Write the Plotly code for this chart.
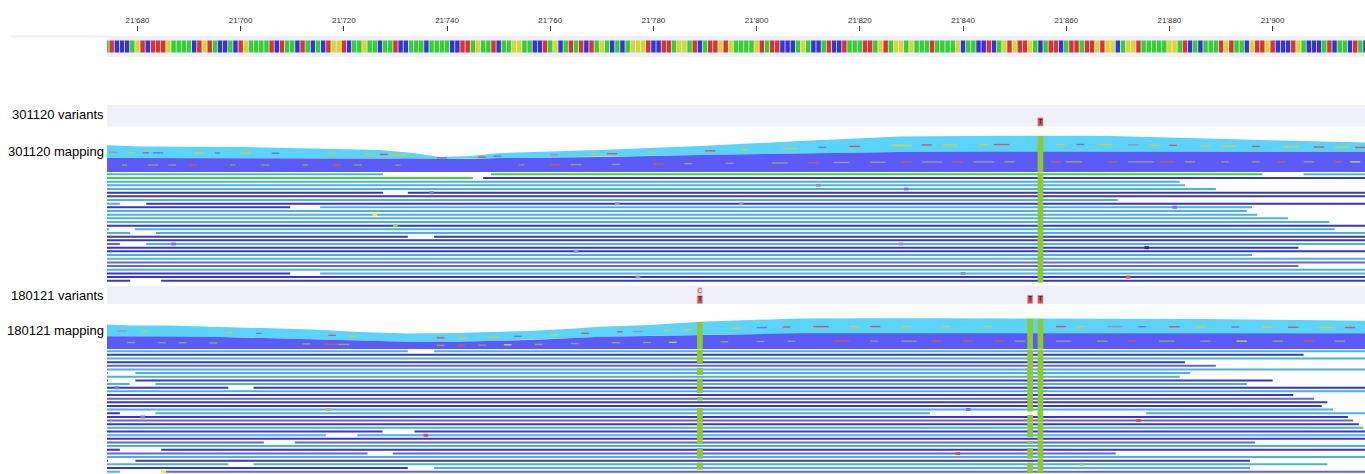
import plotly.graph_objects as go
import numpy as np

# ---------------- data ----------------
SEQ_START = 21674
SEQUENCE = ("ATCCCAGTCTTTGAAAACTGTACCACTGAAAATCTAACTACACTGGTCAAGAACAATCCAAA"
            "CAAAACCTTAGAATCAAGGAACCTAGCATATCTAGACACAGGGTCCTTAGGATCATTGTGA"
            "AAAGTATTCCCAGACCATCCTAAATTAGTAGGAGAAATAAAAGCAACCTCAGTGTTGACAT"
            "TCATTATTGTGGCAGGTAAAAAGGATCACAAATGTAACGTTGTCCCTGACCCATCAACTAC")
BASE_COLORS = {"A": "#35CF35", "C": "#3535D2", "G": "#D6D63A", "T": "#D63535"}

TICK_VALUES = list(range(21680, 21901, 20))
X_RANGE = [21674.1, 21917.9]

TRACK_LABELS = ["301120 variants", "301120 mapping", "180121 variants", "180121 mapping"]
LABEL_Y = [114, 151, 295, 330]

# variants: position -> alleles stacked top to bottom
S1_VARIANTS = [(21855, ["T"])]
S2_VARIANTS = [(21789, ["C", "T"]), (21853, ["T"]), (21855, ["T"])]

# coverage profiles (depth in pixel units above the stack bottom)
S1_COV_POS = [21668, 21680.5, 21699.9, 21711.5, 21727, 21733.4, 21738.6, 21744.4, 21750.3, 21769.6,
              21789, 21808.4, 21827.8, 21847.2, 21866.5, 21876.2, 21895.6, 21905.3, 21922]
S1_COV_TOTAL = [28, 25.5, 25, 24, 22, 19, 15, 16, 19, 22, 26, 31, 35.5, 36.3, 36.3, 35, 32, 31, 29]
S1_COV_DARK = [14, 14, 14, 14, 14, 13.5, 13, 13, 14, 15, 17, 18.5, 20, 20.3, 20.3, 20.3, 20.3, 20.3, 20.3]

S2_COV_POS = [21668, 21678.6, 21686.3, 21696, 21704.7, 21714, 21723.1, 21732.4, 21741.7, 21748.3, 21756,
              21764.8, 21769.6, 21779.3, 21789, 21798.7, 21808.4, 21827.8, 21847.2, 21866.5, 21885.9,
              21905.3, 21922]
S2_COV_TOTAL = [26, 23.5, 23.5, 22, 21, 19.5, 17, 15.5, 16, 17, 18, 20.5, 22.3, 24, 27.3, 29, 30.5,
                30.7, 30.7, 30.5, 30, 29, 28]
S2_COV_DARK = [13, 13, 12.5, 12, 11, 10, 8.5, 7.3, 7.3, 8, 9, 11, 12.3, 13, 14, 15, 15.7, 15.7, 15.7,
               15.7, 15.7, 15.7, 15.7]

# mismatch dashes inside the coverage stacks: (start, length, colour code)
S1_LIGHT_DASH = [(21674.5, 1.5, "o"), (21678, 1.5, "y"), (21681, 1.2, "r"), (21683, 2, "b"), (21691, 2, "y"),
                 (21695, 1, "b"), (21700, 2, "y"), (21706, 1.5, "b"), (21717, 1.5, "y"), (21724, 2, "y"),
                 (21727, 1.5, "r"), (21729, 3, "y"), (21738, 2, "b"), (21746, 1.5, "r"), (21749, 1.5, "b"),
                 (21760, 1.5, "g"), (21768, 1.5, "y"), (21771, 2, "r"), (21779, 1.5, "y"), (21790, 2, "r"),
                 (21797, 1.5, "y"), (21805, 3, "y"), (21812, 1.5, "b"), (21818, 2, "r"), (21826, 4, "y"),
                 (21832, 2, "r"), (21836, 3, "y"), (21843, 2, "y"), (21846, 3, "r"), (21858, 2, "y"),
                 (21862, 1.5, "b"), (21866, 3, "y"), (21872, 2, "g"), (21876, 2, "y"), (21880, 1.5, "r"),
                 (21886, 2, "y"), (21890, 3, "y"), (21896, 1.5, "r"), (21902, 3, "y"), (21908, 2, "r"),
                 (21912, 3, "y"), (21916, 2, "r")]
S1_DARK_DASH = [(21677, 1, "o"), (21682, 2, "o"), (21686, 1.5, "g"), (21690, 1.5, "r"), (21698, 1, "o"),
                (21704, 1.5, "o"), (21712, 1, "o"), (21718, 1.5, "r"), (21722, 1.5, "o"), (21730, 1, "g"),
                (21754, 1, "o"), (21760, 2, "r"), (21764, 2, "o"), (21772, 1.5, "g"), (21780, 2, "r"),
                (21786, 1.5, "o"), (21794, 1.5, "g"), (21803, 3, "o"), (21810, 2, "r"), (21815, 3, "g"),
                (21822, 3, "o"), (21828, 2, "r"), (21832, 4, "g"), (21838, 2, "r"), (21842, 4, "g"),
                (21848, 2, "o"), (21857, 2, "r"), (21860, 3, "o"), (21868, 2, "r"), (21872, 5, "g"),
                (21878, 3, "r"), (21883, 2, "o"), (21890, 1.5, "g"), (21896, 1.5, "o"), (21901, 1.5, "r"),
                (21906, 2, "o"), (21912, 1.5, "r"), (21915, 2, "y")]
S2_LIGHT_DASH = [(21676, 2, "g"), (21681, 1, "y"), (21697, 1.5, "y"), (21703, 1, "b"), (21717, 1.5, "r"),
                 (21721, 1.5, "y"), (21738, 1.5, "r"), (21742, 2, "y"), (21748, 2, "y"), (21753, 1.5, "b"),
                 (21760, 1.5, "y"), (21766, 1.5, "r"), (21773, 1, "r"), (21776, 2, "g"), (21782, 1.5, "y"),
                 (21786, 1.5, "y"), (21795, 2, "y"), (21800, 2, "b"), (21805, 1.5, "r"), (21811, 3, "r"),
                 (21818, 2, "y"), (21822, 2, "r"), (21828, 2, "y"), (21836, 1.5, "y"), (21844, 1.5, "y"),
                 (21858, 2, "r"), (21862, 2, "y"), (21868, 3, "g"), (21874, 1.5, "b"), (21880, 2, "r"),
                 (21885, 2, "y"), (21892, 1.5, "b"), (21898, 2, "y"), (21903, 2, "r"), (21909, 3, "y"),
                 (21914, 2, "r")]
S2_DARK_DASH = [(21678, 1.5, "o"), (21684, 1.5, "g"), (21688, 1.5, "o"), (21694, 1.5, "o"), (21712, 1.5, "o"),
                (21716, 3, "r"), (21719, 2, "o"), (21738, 1.5, "o"), (21742, 1.5, "r"), (21746, 1.5, "g"),
                (21751, 1.5, "y"), (21757, 1.5, "o"), (21764, 1.5, "g"), (21772, 1.5, "o"), (21778, 1.5, "o"),
                (21783, 1.5, "y"), (21793, 1.5, "o"), (21800, 1.5, "g"), (21806, 1.5, "g"), (21815, 3, "r"),
                (21822, 1.5, "g"), (21828, 3, "g"), (21834, 2, "r"), (21840, 2, "r"), (21846, 2, "r"),
                (21850, 2, "g"), (21858, 3, "g"), (21866, 2, "g"), (21872, 1.5, "r"), (21878, 3, "g"),
                (21886, 2, "g"), (21893, 2, "y"), (21900, 2, "o"), (21906, 2, "r"), (21912, 2, "g")]

# individual reads: each row is a list of (start, end, strand colour code)
S1_ROWS = [
    [(21660, 21727.6, "c"), (21748.5, 21898, "g"), (21906, 21930, "c")],
    [(21660, 21745, "g"), (21747, 21930, "d")],
    [(21660, 21882, "c")],
    [(21660, 21883, "c")],
    [(21660, 21889, "c")],
    [(21660, 21727.6, "d"), (21732.4, 21930, "d")],
    [(21660, 21930, "d")],
    [(21660, 21870, "c")],
    [(21660, 21676.6, "c"), (21681.7, 21930, "d")],
    [(21660, 21709.6, "d"), (21715.4, 21896, "c")],
    [(21660, 21895, "c")],
    [(21660, 21897, "c")],
    [(21660, 21903, "c")],
    [(21660, 21911, "c")],
    [(21660, 21930, "d")],
    [(21660, 21674.5, "c"), (21679.5, 21912, "c")],
    [(21660, 21678.6, "c"), (21683.6, 21925, "c")],
    [(21660, 21732.4, "d"), (21737.5, 21930, "d")],
    [(21660, 21930, "d")],
    [(21660, 21676.6, "m"), (21681.7, 21930, "c")],
    [(21660, 21905, "d")],
    [(21660, 21918, "d")],
    [(21660, 21896, "c")],
    [(21660, 21920, "c")],
    [(21660, 21930, "m")],
    [(21660, 21905, "m")],
    [(21660, 21930, "c")],
    [(21660, 21709.6, "d"), (21715.4, 21930, "c")],
    [(21660, 21930, "d")],
    [(21660, 21678.6, "d"), (21684.6, 21930, "d")],
]
S2_ROWS = [
    [(21660, 21732.4, "c"), (21737.5, 21930, "c")],
    [(21660, 21906, "d")],
    [(21660, 21930, "c")],
    [(21660, 21883, "d")],
    [(21660, 21889, "m")],
    [(21660, 21930, "c")],
    [(21660, 21674.3, "c"), (21679.6, 21884, "c")],
    [(21660, 21882, "c")],
    [(21660, 21674.3, "d"), (21679.6, 21900, "d")],
    [(21660, 21678.5, "c"), (21683.5, 21895, "c")],
    [(21660, 21697.6, "d"), (21702.5, 21930, "d")],
    [(21660, 21930, "c")],
    [(21660, 21904, "d")],
    [(21660, 21908, "m")],
    [(21660, 21910.6, "d")],
    [(21660, 21909.5, "d")],
    [(21660, 21911.7, "c")],
    [(21660, 21676.6, "d"), (21683.5, 21833.6, "c"), (21875.5, 21930, "c")],
    [(21660, 21914.6, "d")],
    [(21660, 21915.6, "m")],
    [(21660, 21916.7, "d")],
    [(21660, 21917.5, "c")],
    [(21660, 21727.5, "d"), (21733.7, 21930, "d")],
    [(21660, 21716.5, "c"), (21722.6, 21930, "c")],
    [(21660, 21930, "d")],
    [(21660, 21704.5, "m"), (21710.5, 21896.6, "m")],
    [(21660, 21930, "c")],
    [(21660, 21676.6, "d"), (21684.6, 21930, "d")],
    [(21660, 21724.6, "m"), (21729.5, 21869.6, "m")],
    [(21660, 21930, "c")],
    [(21660, 21674.3, "d"), (21679.6, 21895.6, "d")],
    [(21660, 21697.6, "c"), (21702.5, 21910.6, "c")],
    [(21660, 21732.4, "d"), (21737.5, 21895.6, "c")],
    [(21660, 21676.6, "c"), (21685.5, 21930, "m")],
]

# mismatch blobs inside reads: (row, position, colour)
S1_BLOBS = [(3, 21812, "gray"), (4, 21829, "blue"), (5, 21737, "blue"), (8, 21773, "gray"),
            (8, 21797, "gray"), (11, 21726, "yellow"), (14, 21730, "green"), (19, 21687, "blue"),
            (9, 21881, "blue"), (19, 21828, "gray"), (21, 21765, "gray"), (20, 21875.6, "dark"),
            (27, 21840, "gray"), (28, 21777, "gray"), (28, 21872, "red")]
S2_BLOBS = [(16, 21717, "green"), (16, 21841, "blue"), (18, 21681, "blue"), (19, 21874, "red"),
            (23, 21735.9, "red"), (28, 21839, "red"), (31, 21863, "green"), (33, 21685, "yellow"),
            (10, 21676, "blue")]

# variant columns through the reads: position -> rows where the allele is absent
S1_COLUMNS = {21855: []}
S2_COLUMNS = {21789: [4, 7, 12, 14, 15, 26, 30, 33], 21853: [17, 24, 26, 30], 21855: []}

# ---------------- styling ----------------
READ_COLORS = {"d": "#3636CC", "c": "#4EB0E0", "m": "#6464DE", "g": "#3CD23C"}
DASH_COLORS = {"o": "#A0A070", "y": "#C8D048", "r": "#D05858", "b": "#6878E0", "g": "#9898A8"}
BLOB_COLORS = {"blue": "#7474F0", "yellow": "#F0F020", "green": "#A0D040", "red": "#F04A30",
               "gray": "#9098A8", "dark": "#303060"}
LIGHT_COV = "#5BD3FB"
DARK_COV = "#5B5BF8"
COLUMN_GREEN = "#8CCB2E"
BAND = "#F0F0FA"

S1 = dict(cov_pos=S1_COV_POS, total=S1_COV_TOTAL, dark=S1_COV_DARK, bottom=172,
          light_dash=S1_LIGHT_DASH, dark_dash=S1_DARK_DASH, rows=S1_ROWS, row_top=174.3, step=3.67,
          blobs=S1_BLOBS, columns=S1_COLUMNS, variants=S1_VARIANTS, var_bottom=126, band=(105, 126.5))
S2 = dict(cov_pos=S2_COV_POS, total=S2_COV_TOTAL, dark=S2_COV_DARK, bottom=349,
          light_dash=S2_LIGHT_DASH, dark_dash=S2_DARK_DASH, rows=S2_ROWS, row_top=351.2, step=3.65,
          blobs=S2_BLOBS, columns=S2_COLUMNS, variants=S2_VARIANTS, var_bottom=303.5, band=(286, 304))


def rect_paths(rects):
    """rects: list of (x0, x1, y0, y1) -> closed polygon coordinates separated by None."""
    xs, ys = [], []
    for x0, x1, y0, y1 in rects:
        xs += [x0, x1, x1, x0, x0, None]
        ys += [y0, y0, y1, y1, y0, None]
    return xs, ys


def add_rects(fig, rects, color, line_color=None, line_width=0):
    xs, ys = rect_paths(rects)
    fig.add_trace(go.Scatter(x=xs, y=ys, fill="toself", fillcolor=color, mode="lines",
                             line=dict(width=line_width, color=line_color or color),
                             hoverinfo="skip", showlegend=False))


fig = go.Figure()

# reference sequence
seq_pos = [SEQ_START + i for i in range(len(SEQUENCE))]
fig.add_trace(go.Bar(x=seq_pos, y=[12.0] * len(seq_pos), base=[40.5] * len(seq_pos), width=0.86,
                     marker=dict(color=[BASE_COLORS[b] for b in SEQUENCE], line=dict(width=0)),
                     hoverinfo="skip", showlegend=False))

for s in (S1, S2):
    pos = np.array(s["cov_pos"], dtype=float)
    top = s["bottom"] - np.array(s["total"], dtype=float)
    mid = s["bottom"] - np.array(s["dark"], dtype=float)
    bot = np.full_like(pos, s["bottom"])
    # coverage stack
    fig.add_trace(go.Scatter(x=list(pos) + list(pos[::-1]), y=list(top) + list(mid[::-1]),
                             fill="toself", fillcolor=LIGHT_COV, mode="lines", line=dict(width=0),
                             hoverinfo="skip", showlegend=False))
    fig.add_trace(go.Scatter(x=list(pos) + list(pos[::-1]), y=list(mid) + list(bot[::-1]),
                             fill="toself", fillcolor=DARK_COV, mode="lines", line=dict(width=0),
                             hoverinfo="skip", showlegend=False))
    # mismatch dashes in coverage
    for dash_list, ref in ((s["light_dash"], "light"), (s["dark_dash"], "dark")):
        groups = {}
        for st, ln, cc in dash_list:
            t = np.interp(st, pos, top)
            m = np.interp(st, pos, mid)
            yy = m - 0.45 * (m - t) if ref == "light" else m + 0.5 * (s["bottom"] - m)
            gx, gy = groups.setdefault(cc, ([], []))
            gx += [st, st + ln, None]
            gy += [yy, yy, None]
        for cc, (gx, gy) in groups.items():
            fig.add_trace(go.Scatter(x=gx, y=gy, mode="lines", line=dict(color=DASH_COLORS[cc], width=1.4),
                                     hoverinfo="skip", showlegend=False))
    # reads
    groups = {}
    for i, row in enumerate(s["rows"]):
        yy = s["row_top"] + i * s["step"]
        for st, en, cc in row:
            gx, gy = groups.setdefault(cc, ([], []))
            gx += [st, en, None]
            gy += [yy, yy, None]
    for cc, (gx, gy) in groups.items():
        fig.add_trace(go.Scatter(x=gx, y=gy, mode="lines", line=dict(color=READ_COLORS[cc], width=2),
                                 hoverinfo="skip", showlegend=False))
    # blobs (mismatches in reads)
    blob_groups = {}
    for r, p, col in s["blobs"]:
        yy = s["row_top"] + r * s["step"]
        blob_groups.setdefault(col, []).append((p - 0.45, p + 0.45, yy - 1.5, yy + 1.5))
    for col, rects in blob_groups.items():
        add_rects(fig, rects, BLOB_COLORS[col])
    # variant columns
    col_rects = []
    for p, missing in s["columns"].items():
        t = float(np.interp(p, pos, top))
        col_rects.append((p - 0.55, p + 0.55, t + 0.5, s["bottom"]))
        for i in range(len(s["rows"])):
            if i in missing:
                continue
            yy = s["row_top"] + i * s["step"]
            col_rects.append((p - 0.55, p + 0.55, yy - s["step"] / 2, yy + s["step"] / 2))
    add_rects(fig, col_rects, COLUMN_GREEN)
    # variant boxes
    box_h = 8.2
    main_boxes, alt_boxes, tx, ty, tt, tc = [], [], [], [], [], []
    for p, alleles in s["variants"]:
        n = len(alleles)
        for j, a in enumerate(alleles):
            y0 = s["var_bottom"] - (n - j) * box_h
            last = (j == n - 1)
            (main_boxes if last else alt_boxes).append((p - 0.5, p + 0.5, y0, y0 + box_h))
            tx.append(p); ty.append(y0 + box_h / 2); tt.append(a)
            tc.append("#3A1010" if last else "#905050")
    if main_boxes:
        add_rects(fig, main_boxes, "#C05656", "#E0A0A0", 0.6)
    if alt_boxes:
        add_rects(fig, alt_boxes, "#EBCACA", "#F0DADA", 0.6)
    fig.add_trace(go.Scatter(x=tx, y=ty, mode="text", text=tt,
                             textfont=dict(size=7, color=tc, family="Liberation Sans, Arial"),
                             hoverinfo="skip", showlegend=False))

# background bands
shapes = [
    dict(type="rect", xref="paper", yref="y", x0=0, x1=1, y0=36, y1=57, fillcolor=BAND, line=dict(width=0),
         layer="below"),
    dict(type="rect", xref="paper", yref="y", x0=-97 / 1258, x1=0, y0=35.5, y1=37.2, fillcolor="#ECECF8",
         line=dict(width=0), layer="below"),
]
for s in (S1, S2):
    shapes.append(dict(type="rect", xref="paper", yref="y", x0=0, x1=1, y0=s["band"][0], y1=s["band"][1],
                       fillcolor=BAND, line=dict(width=0), layer="below"))

annotations = [dict(text=t, xref="paper", yref="y", x=-1.5 / 1258, y=yv, xanchor="right", yanchor="middle",
                    showarrow=False, font=dict(size=13, color="#000000", family="Liberation Sans, Arial"))
               for t, yv in zip(TRACK_LABELS, LABEL_Y)]

fig.update_layout(
    width=1365, height=474, margin=dict(l=107, r=0, t=32, b=0, autoexpand=False),
    paper_bgcolor="white", plot_bgcolor="white",
    barmode="overlay", separators=".'", showlegend=False,
    shapes=shapes, annotations=annotations,
    xaxis=dict(range=X_RANGE, side="top", tickvals=TICK_VALUES, tickformat=",d", ticks="outside",
               ticklen=5, tickwidth=1, tickcolor="#444", showgrid=False, zeroline=False, showline=False,
               tickfont=dict(size=8, color="#333", family="Liberation Sans, Arial"), fixedrange=True,
               automargin=False),
    yaxis=dict(range=[474, 32], visible=False, showgrid=False, zeroline=False, fixedrange=True),
)

# remove the default page margin so the figure sits at the window's top-left corner
fig.write_html("out.html", config={"displayModeBar": False},
               post_script="document.body.style.margin='0px';")
